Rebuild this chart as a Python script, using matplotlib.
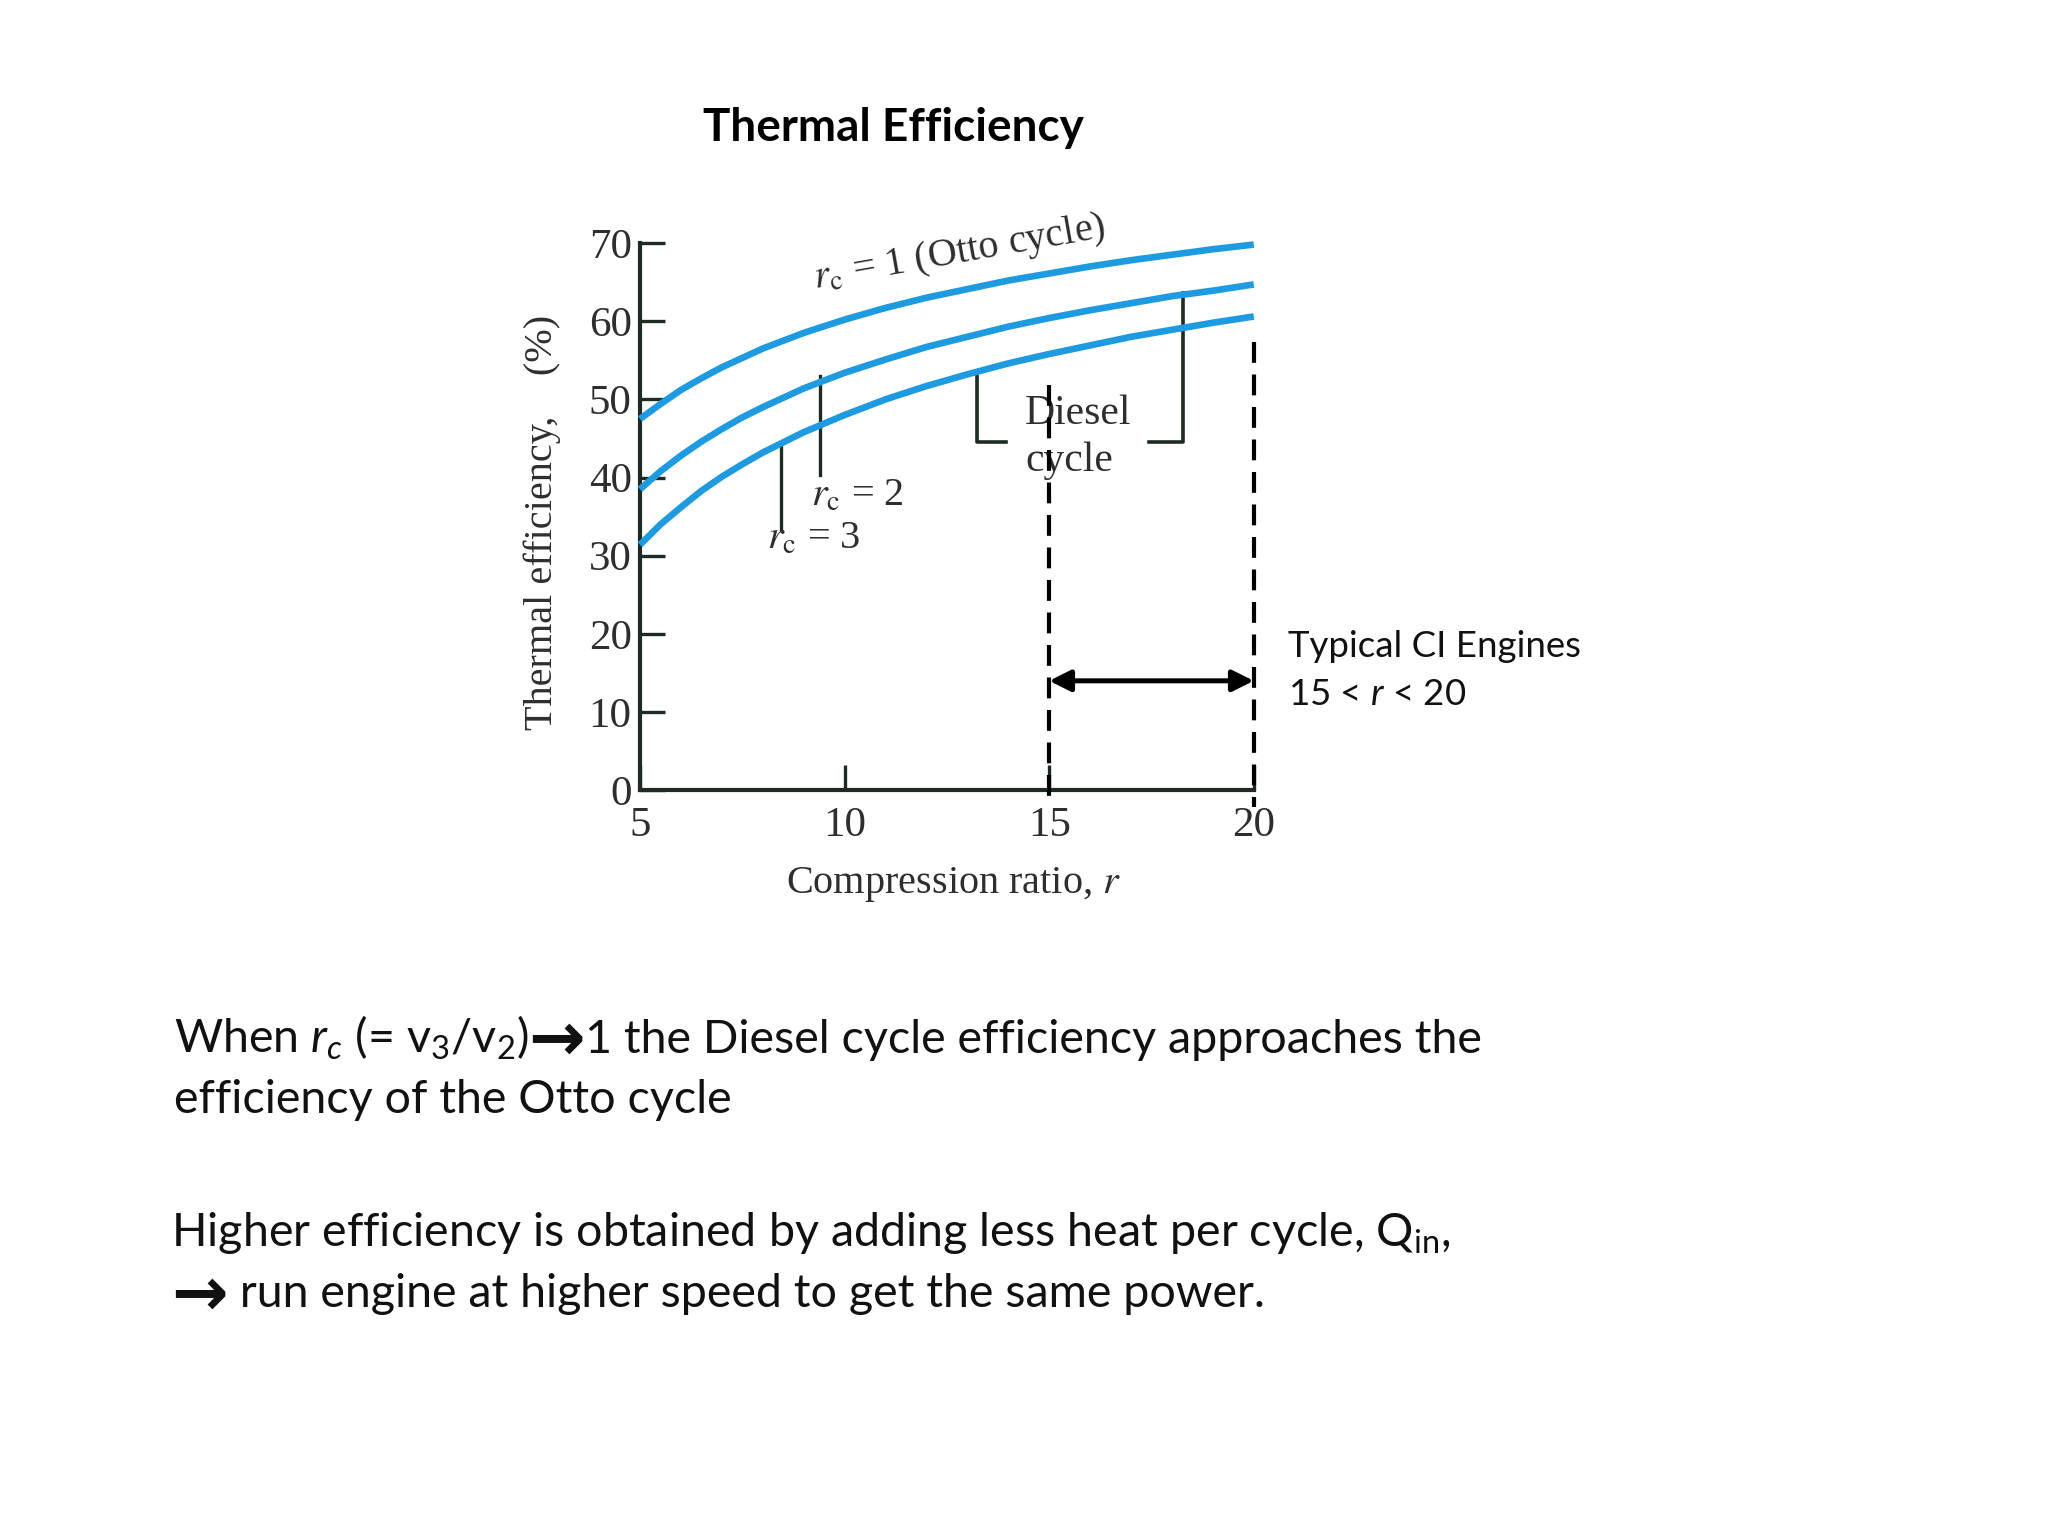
import matplotlib
matplotlib.use('Agg')
import matplotlib.pyplot as plt

# ---- data ----
r = [5, 5.5, 6, 6.5, 7, 7.5, 8, 9, 10, 11, 12, 13, 14, 15, 16, 17, 18, 19, 20]
eff_otto = [47.5, 49.4, 51.2, 52.7, 54.1, 55.3, 56.5, 58.5, 60.2, 61.7, 63.0, 64.1,
            65.2, 66.1, 67.0, 67.8, 68.5, 69.2, 69.8]
eff_rc2 = [38.5, 40.8, 42.8, 44.6, 46.2, 47.7, 49.0, 51.4, 53.4, 55.1, 56.7, 58.0,
           59.3, 60.4, 61.4, 62.3, 63.2, 63.9, 64.7]
eff_rc3 = [31.4, 34.0, 36.2, 38.3, 40.1, 41.7, 43.2, 45.8, 48.0, 50.0, 51.7, 53.2,
           54.6, 55.8, 56.9, 58.0, 58.9, 59.8, 60.6]
xticks = [5, 10, 15, 20]
yticks = [0, 10, 20, 30, 40, 50, 60, 70]
ci_range = [15, 20]

plt.rcParams['mathtext.fontset'] = 'custom'
plt.rcParams['mathtext.rm'] = 'Lato'
plt.rcParams['mathtext.it'] = 'Lato:italic'
plt.rcParams['mathtext.bf'] = 'Lato:bold'

BLUE = '#1E9AE0'
AXC = '#1d2b23'
SERIF = 'Liberation Serif'
TXT = '#2e2e2e'

fig = plt.figure(figsize=(10.24, 7.68), dpi=200)
fig.patch.set_facecolor('white')
ax = fig.add_axes([0.3125, 0.4855, 0.2997, 0.3563])
ax.set_xlim(5, 20)
ax.set_ylim(0, 70)

for ys in (eff_otto, eff_rc2, eff_rc3):
    ax.plot(r, ys, color=BLUE, lw=2.4, solid_capstyle='butt', clip_on=False, zorder=3)

for s in ('top', 'right'):
    ax.spines[s].set_visible(False)
for s in ('left', 'bottom'):
    ax.spines[s].set_color(AXC)
    ax.spines[s].set_linewidth(1.5)

ax.set_xticks(xticks)
ax.set_yticks(yticks)
ax.tick_params(axis='y', direction='in', length=9, width=1.2, color=AXC, pad=3,
               labelsize=15.5, labelcolor=TXT)
ax.tick_params(axis='x', direction='in', length=9, width=1.2, color=AXC, pad=6,
               labelsize=15.5, labelcolor=TXT)
for lab in ax.get_xticklabels() + ax.get_yticklabels():
    lab.set_family(SERIF)
ax.set_facecolor('none')

# axis labels
ax.text(-0.16, 0.49, 'Thermal efficiency,    (%)', rotation=90, transform=ax.transAxes,
        ha='center', va='center', family=SERIF, fontsize=14.5, color=TXT)
ax.text(0.51, -0.172, r'Compression ratio, $r$', transform=ax.transAxes,
        ha='center', va='center', family=SERIF, fontsize=14.5, color=TXT,
        math_fontfamily='stix')

# curve labels
ax.text(12.8, 68.7, r'$r_{\rm c}$ = 1 (Otto cycle)', rotation=10, ha='center', va='center',
        family=SERIF, fontsize=14.5, color=TXT, math_fontfamily='stix')
ax.plot([9.4, 9.4], [53.0, 40.3], color=AXC, lw=1.2)
ax.plot([8.45, 8.45], [44.3, 33.4], color=AXC, lw=1.2)
ax.text(10.3, 37.6, r'$r_{\rm c}$ = 2', ha='center', va='center', family=SERIF,
        fontsize=14.5, color=TXT, math_fontfamily='stix')
ax.text(9.25, 32.1, r'$r_{\rm c}$ = 3', ha='center', va='center', family=SERIF,
        fontsize=14.5, color=TXT, math_fontfamily='stix')

# Diesel cycle bracket
ax.plot([13.23, 13.23, 13.95], [53.4, 44.6, 44.6], color=AXC, lw=1.3)
ax.plot([18.28, 18.28, 17.45], [63.6, 44.6, 44.6], color=AXC, lw=1.3)
ax.text(15.7, 48.1, 'Diesel', ha='center', va='center', family=SERIF, fontsize=15, color=TXT)
ax.text(15.5, 42.1, 'cycle', ha='center', va='center', family=SERIF, fontsize=15, color=TXT)

# typical CI range
ax.plot([ci_range[0], ci_range[0]], [51.8, -1.8], color='black', lw=1.5,
        dashes=(5, 2.8), clip_on=False, zorder=4)
ax.plot([ci_range[1], ci_range[1]], [57.3, -2.2], color='black', lw=1.5,
        dashes=(5, 2.8), clip_on=False, zorder=4)
ax.annotate('', xy=(ci_range[0], 14.0), xytext=(ci_range[1], 14.0),
            arrowprops=dict(arrowstyle='<|-|>', color='black', lw=1.8,
                            mutation_scale=16, shrinkA=0, shrinkB=0))

fig.text(0.6288, 0.5723, 'Typical CI Engines', family='Lato', fontsize=13.2,
         color='#111111', va='baseline')
fig.text(0.6288, 0.5408, r'15 < $r$ < 20', family='Lato', fontsize=13.2,
         color='#111111', va='baseline')

# title
fig.text(0.4362, 0.908, 'Thermal Efficiency', family='Lato', weight='bold',
         fontsize=16.5, ha='center', va='baseline', color='black')

# body text (pieces placed side by side)
renderer = fig.canvas.get_renderer()
FS = 16.8


def draw_pieces(x, y, pieces):
    for s, kw, dy in pieces:
        t = fig.text(x, y + dy, s, va='baseline', color='#111111', **kw)
        bb = t.get_window_extent(renderer)
        x += bb.width / fig.bbox.width


LATO = dict(family='Lato', fontsize=FS)
ARW = dict(family='DejaVu Sans', weight='bold', fontsize=FS * 1.45)

draw_pieces(0.0848, 0.3146, [
    (r'When $r_c$ (= $\mathrm{v}_3$/$\mathrm{v}_2$)', LATO, 0),
    ('\u2192', ARW, -0.0045),
    ('1 the Diesel cycle efficiency approaches the', LATO, 0),
])
fig.text(0.0848, 0.2755, 'efficiency of the Otto cycle', va='baseline', color='#111111', **LATO)
fig.text(0.0835, 0.1888,
         r'Higher efficiency is obtained by adding less heat per cycle, $\mathrm{Q}_{\mathrm{in}}$,',
         va='baseline', color='#111111', **LATO)
draw_pieces(0.0835, 0.1488, [
    ('\u2192', ARW, -0.0045),
    (' run engine at higher speed to get the same power.', LATO, 0),
])

fig.savefig('out.png', dpi=200, facecolor='white')
